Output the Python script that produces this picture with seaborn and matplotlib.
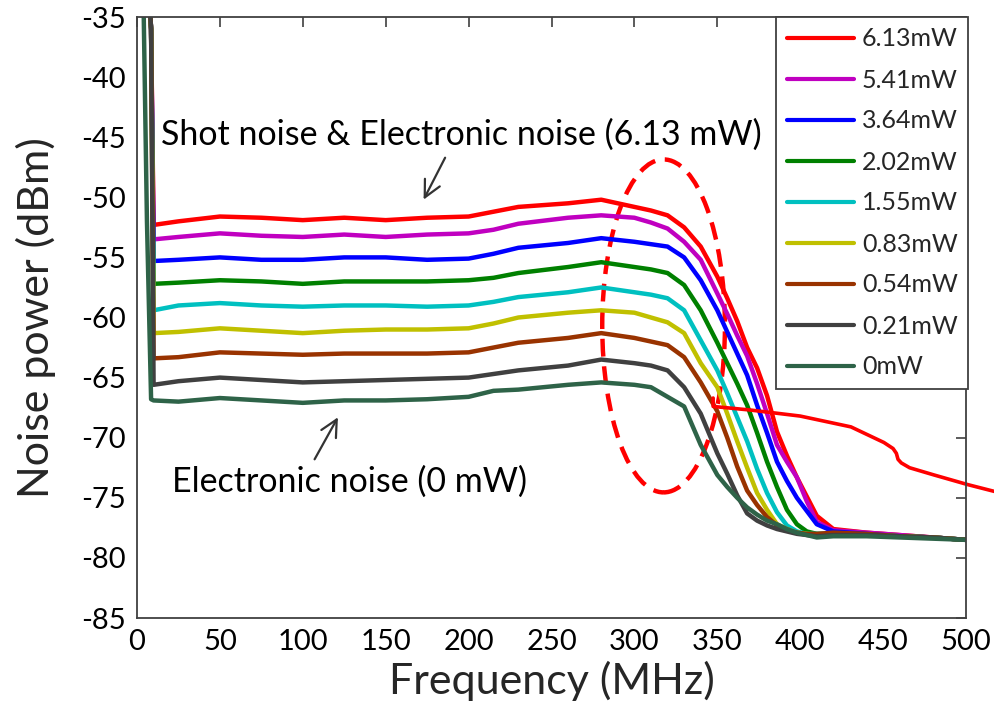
import numpy as np
import pandas as pd
import seaborn as sns
import matplotlib
matplotlib.use("Agg")
import matplotlib.pyplot as plt
from matplotlib.patches import Ellipse

# ---------------- data ----------------
freq = [3.5, 6, 8.5, 10, 25, 50, 75, 100, 125, 150, 175, 200, 215, 230, 260, 280,
        300, 310, 320, 330, 340, 350, 356, 362, 368, 374, 380, 386, 392, 398,
        404, 410, 420, 440, 460, 480, 500]

powers = ["6.13mW", "5.41mW", "3.64mW", "2.02mW", "1.55mW",
          "0.83mW", "0.54mW", "0.21mW", "0mW"]

p613 = [-30, -30, -36, -52.3, -52.0, -51.6, -51.7, -51.9, -51.7, -51.9, -51.7, -51.6, -51.2, -50.8, -50.5, -50.2,
        -50.8, -51.1, -51.5, -52.5, -54.1, -56.6, -58.4, -60.3, -62.5, -64.2, -66.5, -69.5, -71.5, -73.3,
        -74.9, -76.5, -77.6, -77.9, -78.1, -78.3, -78.5]
p541 = [-30, -30, -36, -53.5, -53.3, -53.0, -53.2, -53.3, -53.1, -53.3, -53.1, -53.0, -52.7, -52.2, -51.7, -51.5,
        -51.7, -52.1, -52.6, -53.7, -55.2, -58.0, -59.7, -61.5, -63.2, -65.5, -68.0, -70.6, -72.0, -73.3,
        -75.3, -77.0, -77.7, -77.9, -78.1, -78.3, -78.5]
p364 = [-30, -30, -36, -55.3, -55.2, -55.0, -55.2, -55.2, -55.0, -55.0, -55.2, -55.1, -54.7, -54.2, -53.8, -53.4,
        -53.7, -53.9, -54.1, -55.0, -56.9, -59.4, -61.2, -63.0, -64.8, -67.3, -69.6, -72.0, -73.6, -75.0,
        -76.1, -77.2, -77.8, -78.0, -78.2, -78.3, -78.5]
p202 = [-30, -30, -36, -57.2, -57.1, -56.9, -57.0, -57.2, -57.0, -57.0, -57.0, -56.9, -56.7, -56.3, -55.8, -55.4,
        -55.8, -56.0, -56.3, -57.3, -59.4, -62.1, -63.8, -65.5, -67.3, -69.6, -72.0, -74.1, -76.0, -77.2,
        -77.8, -78.0, -78.0, -78.1, -78.2, -78.3, -78.5]
p155 = [-30, -30, -36, -59.4, -59.0, -58.8, -59.0, -59.1, -59.0, -59.0, -59.1, -59.0, -58.7, -58.3, -57.9, -57.5,
        -57.9, -58.1, -58.4, -59.4, -61.9, -64.4, -66.3, -68.3, -70.3, -72.6, -74.6, -76.2, -77.3, -77.8,
        -78.0, -78.0, -78.0, -78.1, -78.2, -78.3, -78.5]
p083 = [-30, -30, -36, -61.3, -61.2, -60.9, -61.1, -61.3, -61.1, -61.0, -61.0, -60.9, -60.5, -60.0, -59.6, -59.4,
        -59.6, -60.0, -60.4, -61.3, -63.8, -65.8, -68.0, -70.3, -72.5, -74.6, -76.0, -77.2, -77.6, -77.9,
        -78.0, -78.1, -78.0, -78.1, -78.2, -78.3, -78.5]
p054 = [-30, -30, -36, -63.4, -63.3, -62.9, -63.0, -63.1, -63.0, -63.0, -63.0, -62.9, -62.5, -62.1, -61.7, -61.3,
        -61.7, -62.0, -62.3, -63.3, -65.4, -67.8, -70.0, -72.4, -74.4, -75.6, -76.6, -77.3, -77.7, -77.9,
        -78.0, -78.0, -77.9, -78.0, -78.2, -78.3, -78.5]
p021 = [-30, -30, -36, -65.6, -65.3, -65.0, -65.2, -65.4, -65.3, -65.2, -65.1, -65.0, -64.7, -64.4, -64.0, -63.5,
        -63.8, -64.0, -64.4, -65.8, -68.0, -71.3, -73.0, -74.8, -76.3, -76.9, -77.3, -77.6, -77.8, -78.0,
        -78.1, -78.2, -78.1, -78.1, -78.2, -78.3, -78.5]
p000 = [-30, -52, -66.8, -66.9, -67.0, -66.7, -66.9, -67.1, -66.9, -66.9, -66.8, -66.6, -66.1, -66.0, -65.6, -65.4,
        -65.6, -65.8, -66.6, -67.4, -70.6, -73.1, -74.1, -75.0, -75.8, -76.4, -76.9, -77.2, -77.6, -77.9,
        -78.1, -78.3, -78.2, -78.2, -78.3, -78.4, -78.5]

series = [p613, p541, p364, p202, p155, p083, p054, p021, p000]
colors = ["#FF0000", "#C000C0", "#0000FF", "#008000", "#00C0C0",
          "#C0C000", "#993300", "#404040", "#2E6348"]

x_ticks = [0, 50, 100, 150, 200, 250, 300, 350, 400, 450, 500]
y_ticks = [-35, -40, -45, -50, -55, -60, -65, -70, -75, -80, -85]

# dashed ellipse (center MHz, center dBm, width MHz, height dB)
ell_center = (317.6, -60.7)
ell_size = (74.0, 27.7)

# red call-out line
callout_x = [347.5, 347.5, 370, 400, 430.6, 450.5, 456, 458, 459, 461, 466, 480.7, 501, 518]
callout_y = [-66.7, -67.4, -67.7, -68.2, -69.1, -70.4, -70.9, -71.3, -71.8, -72.1, -72.5, -73.1, -73.9, -74.5]

# ---------------- build frame ----------------
rows = []
for label, vals in zip(powers, series):
    for f, v in zip(freq, vals):
        rows.append({"freq": f, "power_dbm": v, "power": label})
df = pd.DataFrame(rows)

sns.set_theme(style="white")
plt.rcParams["font.family"] = ["Lato", "DejaVu Sans"]

fig = plt.figure(figsize=(9.95, 7.18), dpi=100)
ax = fig.add_axes([137 / 995, 1 - 618 / 718, (966 - 137) / 995, (618 - 17) / 718])

sns.lineplot(data=df, x="freq", y="power_dbm", hue="power", hue_order=powers,
             palette=dict(zip(powers, colors)), linewidth=3.2, estimator=None,
             sort=False, ax=ax)

ax.set_xlim(0, 500)
ax.set_ylim(-85, -35)
ax.set_xticks(x_ticks)
ax.set_yticks(y_ticks)
ax.set_xticklabels([str(t) for t in x_ticks])
ax.set_yticklabels([str(t) for t in y_ticks])
ax.tick_params(direction="in", length=7, width=1.2, color="#404040",
               top=True, right=True, labelsize=21, pad=8, labelcolor="black")
for s in ax.spines.values():
    s.set_color("#404040")
    s.set_linewidth(1.3)

ax.set_xlabel("Frequency (MHz)", fontsize=31, labelpad=4)
ax.set_ylabel("Noise power (dBm)", fontsize=31, labelpad=18)

sns.move_legend(ax, "upper right", bbox_to_anchor=(1.003, 1.0), borderaxespad=0,
                title=None, fontsize=18, frameon=True, fancybox=False,
                edgecolor="#404040", framealpha=1, handlelength=2.7,
                handletextpad=0.3, labelspacing=0.72, borderpad=0.42)
leg = ax.get_legend()
leg.get_frame().set_linewidth(1.3)
for h in leg.legend_handles:
    h.set_linewidth(3.0)

ax.add_patch(Ellipse(ell_center, ell_size[0], ell_size[1], fill=False,
                     edgecolor="#FF0000", linewidth=3.2, linestyle=(0, (4, 2.2))))

ax.plot(callout_x, callout_y, color="#FF0000", linewidth=2.6, clip_on=False)

ax.annotate("", xy=(172.1, -50.4), xytext=(186.6, -46.5),
            arrowprops=dict(arrowstyle="->", color="#333333", lw=1.6, mutation_scale=30))
ax.text(195.7, -44.8, "Shot noise & Electronic noise (6.13 mW)", fontsize=24.5,
        ha="center", va="center", color="black")
ax.annotate("", xy=(122.0, -68.1), xytext=(106.3, -72.0),
            arrowprops=dict(arrowstyle="->", color="#333333", lw=1.6, mutation_scale=30))
ax.text(128.0, -73.7, "Electronic noise (0 mW)", fontsize=24.5,
        ha="center", va="center", color="black")

fig.savefig("out.png", dpi=100)
